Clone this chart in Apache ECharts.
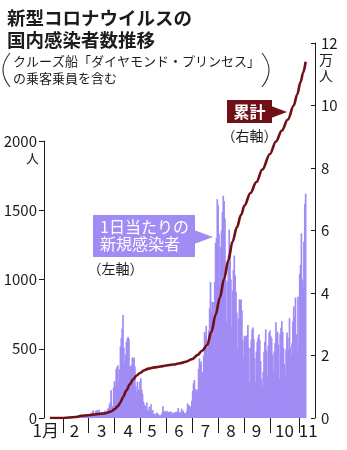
<!DOCTYPE html>
<html>
<head>
<meta charset="utf-8">
<script src="https://cdn.jsdelivr.net/npm/echarts@6/dist/echarts.min.js"></script>
<style>
  html, body { margin: 0; padding: 0; background: #fff; }
  #chart { width: 347px; height: 450px; }
</style>
</head>
<body>
<div id="chart"></div>
<script>
// Days are counted from Jan 1, 2020 (= day 0).
const FONT = '"Noto Sans CJK JP", "Noto Sans", sans-serif';

// Daily new cases (people), Jan 16 – Nov 12
const firstDay = 15;
const casesJan = [1,0,0,0,0,0,0,0,1,1,0,1,3,1,2,3];
const casesFeb = [1,0,0,0,0,0,0,0,1,0,1,0,3,8,5,6,6,3,4,5,9,8,12,9,11,13,17,9,12];
const casesMar = [14,17,10,33,33,45,56,31,26,52,54,56,41,60,33,14,40,44,39,30,54,41,38,65,71,96,113,200,63,88,220];
const casesApr = [266,235,353,368,380,252,351,515,576,644,743,507,391,457,549,573,584,568,372,370,383,437,423,436,372,229,188,263,206,192];
const casesMay = [264,287,203,175,120,100,84,86,113,59,48,82,55,99,44,57,30,31,16,30,39,28,26,14,21,20,38,85,45,52,44];
const casesJun = [36,51,44,41,47,38,46,25,37,30,43,40,43,47,72,43,41,33,68,39,54,36,31,37,48,105,94,88,59,84];
const casesJul = [125,195,250,274,208,162,206,200,355,430,385,408,258,332,450,622,594,664,510,420,631,795,981,770,839,837,598,982,1264,1300,1580];
const casesAug = [1536,1331,958,1236,1354,1485,1605,1566,1440,1000,700,985,1175,1360,1227,1000,660,918,1070,1173,1030,909,761,494,721,857,852,855,777,563,435];
const casesSep = [594,583,592,598,669,505,260,509,566,639,654,570,432,260,480,550,581,602,562,411,280,232,334,478,551,640,488,301,525,616];
const casesOct = [631,591,575,458,343,481,541,692,608,624,530,286,608,651,699,622,505,388,314,494,617,581,497,720,511,443,541,699,806,728,870];
const casesNov = [605,486,876,542,1042,1105,1333,1002,934,1272,1547,1620];

// Cumulative cases (10,000 people), sampled days
const cumDays   = [15,31,45,52,60,70,80,87,91,95,98,101,105,109,113,117,121,126,131,138,145,152,160,168,175,182,189,194,200,205,210,215,220,225,230,235,240,244,251,258,265,274,281,288,295,302,306,310,313,316];
const cumValues = [0,0,0.03,0.07,0.09,0.12,0.15,0.21,0.28,0.38,0.5,0.67,0.88,1.08,1.24,1.36,1.44,1.53,1.58,1.62,1.65,1.68,1.71,1.75,1.8,1.88,2.02,2.15,2.33,2.75,3.3,3.85,4.45,5.05,5.65,6.1,6.5,6.8,7.2,7.55,7.95,8.45,8.85,9.2,9.55,10.0,10.35,10.75,11.05,11.4];

// Month labels along the bottom, and the separators between them
const monthLabels = ['1月','2','3','4','5','6','7','8','9','10','11'];
const monthLabelDays = [10,44,76,107,135,167,198,228,258,291,319];
const monthSepDays = [31,60,91,121,152,182,213,244,274,308];

const daily = [].concat(casesJan, casesFeb, casesMar, casesApr, casesMay, casesJun,
                        casesJul, casesAug, casesSep, casesOct, casesNov);
const barData = daily.map((v, i) => [firstDay + i, v]);
const lineData = cumDays.map((d, i) => [d, cumValues[i]]);

const PURPLE = '#a08cf4';
const MAROON = '#6e1016';
const INK = '#1c1c1c';

const chart = echarts.init(document.getElementById('chart'), null, { renderer: 'canvas' });

const txt = (x, y, s, size, extra) => ({
  type: 'text', x: x, y: y, silent: true,
  style: Object.assign({
    text: s, fill: INK, fontSize: size, fontFamily: FONT, fontWeight: 'normal',
    verticalAlign: 'middle', align: 'left'
  }, extra || {})
});

chart.setOption({
  animation: false,
  backgroundColor: '#fff',
  grid: [
    { left: 44, right: 32, top: 141, bottom: 32 },
    { left: 44, right: 32, top: 43, bottom: 32 }
  ],
  xAxis: [
    {
      gridIndex: 0, type: 'value', min: 8, max: 327, offset: 4,
      axisLine: { show: false },
      splitLine: { show: false },
      axisTick: { show: true, customValues: monthSepDays, length: 15, lineStyle: { color: INK, width: 1 } },
      axisLabel: {
        customValues: monthLabelDays, margin: 0,
        fontSize: 17, color: INK, fontFamily: FONT,
        formatter: v => monthLabels[monthLabelDays.indexOf(v)] || ''
      }
    },
    { gridIndex: 1, type: 'value', min: 8, max: 327, show: false }
  ],
  yAxis: [
    {
      gridIndex: 0, type: 'value', position: 'left', min: 0, max: 2000, interval: 500,
      axisLine: { show: true, lineStyle: { color: INK, width: 1 } },
      axisTick: { show: true, length: 5, lineStyle: { color: INK } },
      axisLabel: { fontSize: 15, color: INK, margin: 7, fontFamily: FONT, formatter: v => String(v) },
      splitLine: { show: false }
    },
    {
      gridIndex: 1, type: 'value', position: 'right', min: 0, max: 12, interval: 2,
      axisLine: { show: true, lineStyle: { color: INK, width: 1 } },
      axisTick: { show: true, inside: true, length: 4, lineStyle: { color: INK } },
      axisLabel: { fontSize: 15, color: INK, margin: 6, fontFamily: FONT, formatter: v => String(v) },
      splitLine: { show: false }
    }
  ],
  series: [
    {
      name: '1日当たりの新規感染者', type: 'bar', xAxisIndex: 0, yAxisIndex: 0,
      data: barData, barWidth: 1.7, silent: true,
      itemStyle: { color: PURPLE }
    },
    {
      name: '累計', type: 'line', xAxisIndex: 1, yAxisIndex: 1,
      data: lineData, smooth: 0.35, smoothMonotone: 'x', showSymbol: false, silent: true,
      lineStyle: { color: MAROON, width: 2.6 }, z: 5
    }
  ],
  graphic: [
    // heading
    txt(7, 18, '新型コロナウイルスの', 18.5, { fontWeight: 'bold' }),
    txt(7, 40, '国内感染者数推移', 18.5, { fontWeight: 'bold' }),
    // note in parentheses
    txt(13, 61.5, 'クルーズ船「ダイヤモンド・プリンセス」', 13),
    txt(13, 78, 'の乗客乗員を含む', 13),
    { type: 'bezierCurve', silent: true, shape: { x1: 10, y1: 53, x2: 10, y2: 87, cpx1: -4, cpy1: 70 },
      style: { stroke: '#333', lineWidth: 1.1, fill: null } },
    { type: 'bezierCurve', silent: true, shape: { x1: 262, y1: 53, x2: 262, y2: 87, cpx1: 276, cpy1: 70 },
      style: { stroke: '#333', lineWidth: 1.1, fill: null } },
    // axis units
    txt(32.5, 158.5, '人', 13, { align: 'center' }),
    txt(326, 60, '万', 14, { align: 'center' }),
    txt(326, 76, '人', 14, { align: 'center' }),
    // cumulative tag
    { type: 'rect', silent: true, shape: { x: 227, y: 100, width: 45, height: 23 }, style: { fill: MAROON } },
    { type: 'polygon', silent: true, shape: { points: [[271, 106], [287, 112], [271, 118]] }, style: { fill: MAROON } },
    txt(249.5, 111.5, '累計', 16, { align: 'center', fill: '#fff', fontWeight: 'bold' }),
    txt(249.5, 135.5, '（右軸）', 14, { align: 'center' }),
    // daily tag
    { type: 'rect', silent: true, shape: { x: 93, y: 215, width: 102, height: 42 }, style: { fill: PURPLE } },
    { type: 'polygon', silent: true, shape: { points: [[194, 230], [213, 237], [194, 244]] }, style: { fill: PURPLE } },
    txt(100, 226.5, '1日当たりの', 16, { fill: '#fff' }),
    txt(100, 244, '新規感染者', 16, { fill: '#fff' }),
    txt(115.5, 269, '（左軸）', 14, { align: 'center' })
  ]
});
</script>
</body>
</html>
